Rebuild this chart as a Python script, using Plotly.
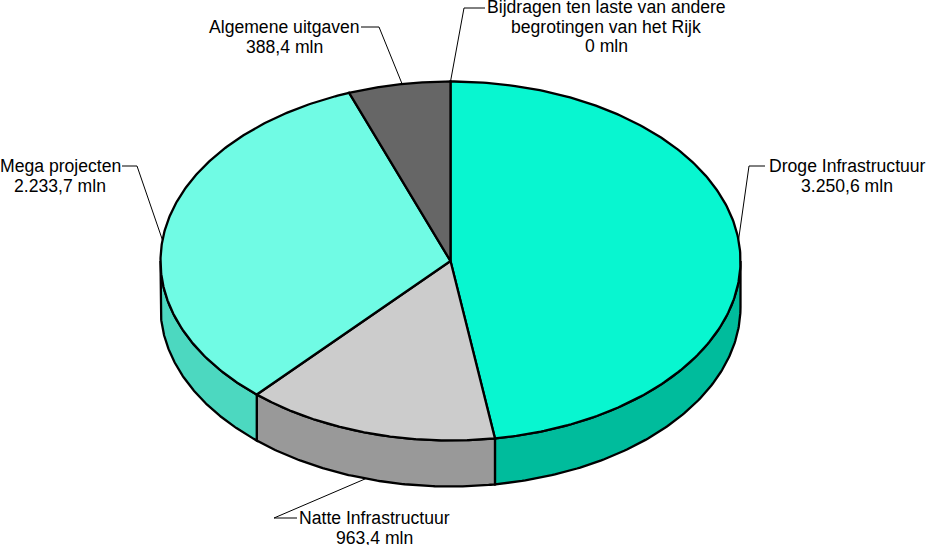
import numpy as np
import plotly.graph_objects as go

categories = ["Droge Infrastructuur", "Natte Infrastructuur", "Mega projecten",
              "Algemene uitgaven", "Bijdragen ten laste van andere|begrotingen van het Rijk"]
values = [3250.6, 963.4, 2233.7, 388.4, 0.0]
value_labels = ["3.250,6 mln", "963,4 mln", "2.233,7 mln", "388,4 mln", "0 mln"]
top_colors = ["#08F6D0", "#CCCCCC", "#70FBE4", "#666666", "#08F6D0"]
side_colors = ["#00BC9C", "#999999", "#4CD8C0", "#4D4D4D", "#00BC9C"]

# Pixel layout of the tilted pie
CX, CY, RX, RY, DEPTH = 450.5, 261, 290, 179.5, 46
label_pos = [(847, 166), (374, 518), (60, 166), (284, 27), (606, 7)]
elbows = [[(765, 166), (749, 166)], [(297, 518), (274, 518)], [(122, 166), (137, 166)],
          [(361, 27), (379, 27)], [(485, 8), (464, 8)]]
leader_deg = [83.3, 197.0, 276.7, 350.4, 360.0]
FONT = "Liberation Sans"
FS = 17.6
LINE_STEP = 19.5


def rim(deg, dy=0.0):
    a = np.radians(deg)
    return CX + RX * np.sin(a), CY - RY * np.cos(a) + dy


total = sum(values)
edges = np.concatenate([[0], np.cumsum(values) / total * 360])
fig = go.Figure()

# Leader lines sit behind the pie and reach its rim
for pts, deg in zip(elbows, leader_deg):
    ax, ay = rim(deg, DEPTH if 90 < deg < 270 else 0)
    xs = [p[0] for p in pts] + [ax]
    ys = [p[1] for p in pts] + [ay]
    fig.add_trace(go.Scatter(x=xs, y=ys, mode="lines", line=dict(color="black", width=1), hoverinfo="skip"))

# Side walls on the front half
for i in range(len(values)):
    lo, hi = max(edges[i], 90), min(edges[i + 1], 270)
    if hi <= lo:
        continue
    t = np.linspace(lo, hi, 120)
    x1, y1 = rim(t)
    x2, y2 = rim(t[::-1], DEPTH)
    fig.add_trace(go.Scatter(x=np.r_[x1, x2, x1[0]], y=np.r_[y1, y2, y1[0]], mode="lines",
                             fill="toself", fillcolor=side_colors[i],
                             line=dict(color="black", width=2.3), hoverinfo="skip"))

# Top faces
for i in range(len(values)):
    if values[i] <= 0:
        continue
    t = np.linspace(edges[i], edges[i + 1], 240)
    x, y = rim(t)
    fig.add_trace(go.Scatter(x=np.r_[CX, x, CX], y=np.r_[CY, y, CY], mode="lines",
                             fill="toself", fillcolor=top_colors[i],
                             line=dict(color="black", width=2.3), hoverinfo="skip"))

for cat, val, (lx, ly) in zip(categories, value_labels, label_pos):
    for k, line in enumerate(cat.split("|") + [val]):
        fig.add_annotation(x=lx, y=ly + k * LINE_STEP, text=line, showarrow=False,
                           xanchor="center", yanchor="middle", align="center",
                           borderpad=0, borderwidth=0,
                           font=dict(family=FONT, size=FS, color="black"))

fig.update_layout(
    width=926, height=545, showlegend=False,
    margin=dict(l=0, r=0, t=0, b=0),
    paper_bgcolor="white", plot_bgcolor="white",
    xaxis=dict(range=[0, 926], visible=False, fixedrange=True),
    yaxis=dict(range=[545, 0], visible=False, fixedrange=True),
)
fig.write_html("out.html", config={"displayModeBar": False},
               post_script="document.body.style.margin='0';document.body.style.overflow='hidden';")
